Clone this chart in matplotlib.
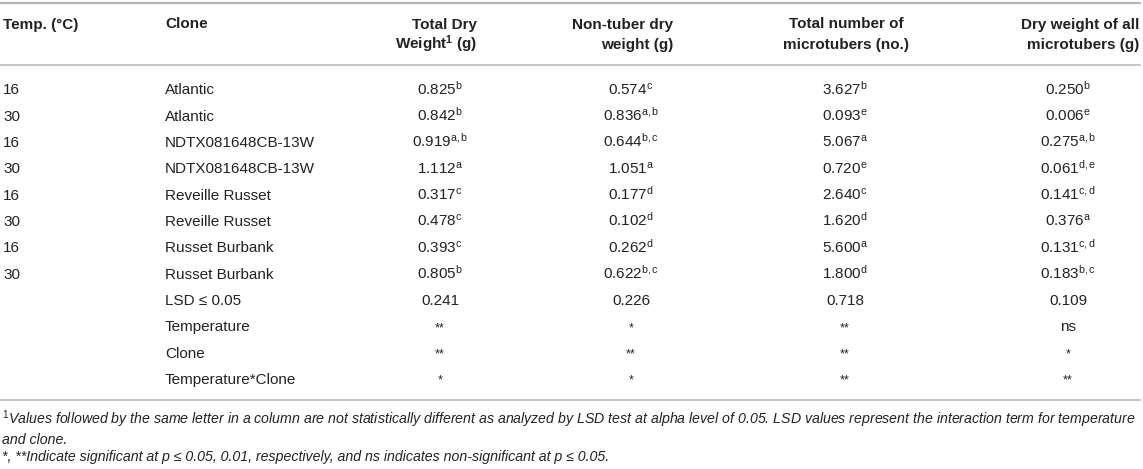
import matplotlib
matplotlib.use("Agg")
import matplotlib.pyplot as plt

plt.rcParams['font.family'] = ['Liberation Sans', 'DejaVu Sans']
plt.rcParams['mathtext.fontset'] = 'custom'
plt.rcParams['mathtext.rm'] = 'Liberation Sans'
plt.rcParams['mathtext.it'] = 'Liberation Sans:italic'
plt.rcParams['mathtext.bf'] = 'Liberation Sans:bold'

# table data
temps = [16, 30, 16, 30, 16, 30, 16, 30]
clones = ["Atlantic", "Atlantic", "NDTX081648CB-13W", "NDTX081648CB-13W",
          "Reveille Russet", "Reveille Russet", "Russet Burbank", "Russet Burbank"]
total_dry = [0.825, 0.842, 0.919, 1.112, 0.317, 0.478, 0.393, 0.805]
total_dry_grp = ["b", "b", "a,b", "a", "c", "c", "c", "b"]
nontuber = [0.574, 0.836, 0.644, 1.051, 0.177, 0.102, 0.262, 0.622]
nontuber_grp = ["c", "a,b", "b,c", "a", "d", "d", "d", "b,c"]
n_tubers = [3.627, 0.093, 5.067, 0.720, 2.640, 1.620, 5.600, 1.800]
n_tubers_grp = ["b", "e", "a", "e", "c", "d", "a", "d"]
tuber_dw = [0.250, 0.006, 0.275, 0.061, 0.141, 0.376, 0.131, 0.183]
tuber_dw_grp = ["b", "e", "a,b", "d,e", "c,d", "a", "c,d", "b,c"]

lsd = [0.241, 0.226, 0.718, 0.109]
sig_rows = ["Temperature", "Clone", "Temperature*Clone"]
sig_temp = ["**", "*", "**", "ns"]
sig_clone = ["**", "**", "**", "*"]
sig_inter = ["*", "*", "**", "**"]

headers = [("Total Dry", "Weight$^{\\mathbf{1}}$ (g)"),
           ("Non-tuber dry", "weight (g)"),
           ("Total number of", "microtubers (no.)"),
           ("Dry weight of all", "microtubers (g)")]

footnotes = [
    "$^{1}$Values followed by the same letter in a column are not statistically different as analyzed "
    "by LSD test at alpha level of 0.05. LSD values represent the interaction term for temperature",
    "and clone.",
    "*, **Indicate significant at p \u2264 0.05, 0.01, respectively, and ns indicates non-significant at p \u2264 0.05.",
]

W, H = 1143, 469
fig = plt.figure(figsize=(W / 100, H / 100), dpi=100)
ax = fig.add_axes([0, 0, 1, 1])
ax.set_xlim(0, W)
ax.set_ylim(H, 0)
ax.axis('off')

txt = '#222222'
rule = '#b5b5b5'
fs = 11
off = 5.5   # centre -> baseline

for yr, lw in [(3, 1.6), (65, 1.1), (400, 1.1)]:
    ax.plot([0, 1141], [yr, yr], color=rule, lw=lw, solid_capstyle='butt')

# header
ax.text(3, 23 + off, "Temp. (\u00b0C)", fontsize=fs, fontweight='bold', color=txt, va='baseline')
ax.text(165, 23 + off, "Clone", fontsize=fs, fontweight='bold', color=txt, va='baseline')
head_x = [477, 673, 846, 1139]
head_ha = ['right', 'right', 'center', 'right']
for (l1, l2), x, ha in zip(headers, head_x, head_ha):
    ax.text(x, 23 + off, l1, fontsize=fs, fontweight='bold', color=txt, ha=ha, va='baseline')
    ax.text(x, 43.5 + off, l2, fontsize=fs, fontweight='bold', color=txt, ha=ha, va='baseline')

# body
col_x = [440, 631, 845, 1068]
row0, dy = 89, 26.3
cols = [(total_dry, total_dry_grp), (nontuber, nontuber_grp),
        (n_tubers, n_tubers_grp), (tuber_dw, tuber_dw_grp)]
for i in range(len(temps)):
    y = row0 + i * dy + off
    ax.text(3, y, str(temps[i]), fontsize=fs, color=txt, va='baseline')
    ax.text(165, y, clones[i], fontsize=fs, color=txt, va='baseline')
    for (vals, grp), x in zip(cols, col_x):
        s = "%.3f$^{\\mathrm{%s}}$" % (vals[i], grp[i])
        ax.text(x, y, s, fontsize=fs, color=txt, ha='center', va='baseline')

i0 = len(temps)
y = row0 + i0 * dy + off
ax.text(165, y, "LSD \u2264 0.05", fontsize=fs, color=txt, va='baseline')
for v, x in zip(lsd, col_x):
    ax.text(x, y, "%.3f" % v, fontsize=fs, color=txt, ha='center', va='baseline')

for k, (name, sig) in enumerate(zip(sig_rows, [sig_temp, sig_clone, sig_inter])):
    y = row0 + (i0 + 1 + k) * dy + off
    ax.text(165, y, name, fontsize=fs, color=txt, va='baseline')
    for s, x in zip(sig, col_x):
        ax.text(x, y, s, fontsize=fs if s == 'ns' else fs - 2, color=txt, ha='center', va='baseline')

# footnotes
for line, yc in zip(footnotes, [420, 439, 457]):
    ax.text(2, yc + 4.5, line, fontsize=10.2, style='italic', color=txt, va='baseline')

fig.savefig('out.png', dpi=100)
